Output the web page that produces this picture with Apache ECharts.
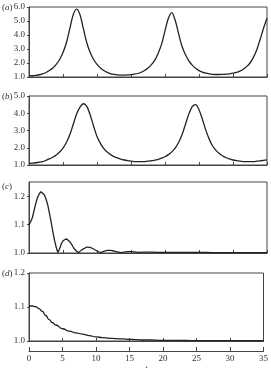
<!DOCTYPE html>
<html>
<head>
<meta charset="UTF-8">
<title>chart</title>
<script src="https://cdn.jsdelivr.net/npm/echarts@6/dist/echarts.min.js"></script>
<style>
    html, body { margin: 0; padding: 0; background: #fff; }
    #container { width: 271px; height: 368px; }
</style>
</head>
<body>
<div id="container"></div>
<script type="text/javascript">
    // time samples (panels a, b)
    const tAB = [0,0.5,1,1.5,2,2.5,3,3.5,4,4.5,5,5.5,6,6.5,7,7.5,8,8.5,9,9.5,10,10.5,11,11.5,12,12.5,13,13.5,14,14.5,15,15.5,16,16.5,17,17.5,18,18.5,19,19.5,20,20.5,21,21.5,22,22.5,23,23.5,24,24.5,25,25.5,26,26.5,27,27.5,28,28.5,29,29.5,30,30.5,31,31.5,32,32.5,33,33.5,34,34.5,35];
    const valsA = [1.08,1.09,1.12,1.16,1.22,1.32,1.46,1.64,1.9,2.25,2.75,3.45,4.45,5.45,5.85,5.45,4.45,3.45,2.75,2.25,1.9,1.65,1.47,1.33,1.23,1.18,1.15,1.14,1.14,1.15,1.17,1.2,1.25,1.34,1.46,1.64,1.88,2.2,2.7,3.35,4.3,5.2,5.6,5.05,4.1,3.2,2.6,2.15,1.85,1.62,1.46,1.35,1.27,1.22,1.19,1.18,1.18,1.19,1.2,1.23,1.27,1.33,1.42,1.55,1.74,2.0,2.4,2.95,3.7,4.5,5.2];
    const valsB = [1.1,1.11,1.13,1.16,1.2,1.27,1.35,1.45,1.58,1.75,1.98,2.3,2.75,3.35,3.95,4.35,4.55,4.4,3.9,3.25,2.65,2.25,1.95,1.75,1.6,1.49,1.41,1.34,1.29,1.25,1.22,1.2,1.19,1.19,1.2,1.22,1.25,1.28,1.33,1.4,1.48,1.6,1.76,1.98,2.3,2.75,3.35,3.95,4.38,4.5,4.2,3.65,3.02,2.5,2.1,1.85,1.66,1.52,1.42,1.35,1.29,1.25,1.22,1.2,1.19,1.19,1.2,1.22,1.24,1.27,1.3];

    // panel c
    const tC = [0,0.25,0.5,0.75,1,1.25,1.5,1.75,2,2.25,2.5,2.75,3,3.25,3.5,3.75,4,4.25,4.5,4.75,5,5.25,5.5,5.75,6,6.25,6.5,6.75,7,7.25,7.5,7.75,8,8.5,9,9.5,10,10.5,11,11.5,12,12.5,13,13.5,14,14.5,15,15.5,16,17,18,19,20,21,22,23,24,25,26,27,28,29,30,31,32,33,34,35];
    const valsC = [1.1,1.11,1.125,1.15,1.175,1.195,1.208,1.216,1.215,1.205,1.19,1.17,1.14,1.11,1.075,1.045,1.02,1.002,1.015,1.032,1.043,1.05,1.05,1.046,1.04,1.031,1.021,1.012,1.005,1.001,1.004,1.011,1.016,1.021,1.02,1.014,1.007,1.001,1.006,1.009,1.009,1.007,1.004,1.001,1.003,1.005,1.005,1.004,1.002,1.003,1.003,1.002,1.002,1.002,1.002,1.002,1.002,1.002,1.002,1.001,1.001,1.001,1.001,1.001,1.001,1.001,1.001,1.001];

    // panel d
    const tD = [0,0.5,1,1.5,2,2.5,3,3.5,4,5,6,7,8,9,10,11,12,13,14,15,16,17,18,20,22,25,30,35];
    const valsD = [1.103,1.103,1.101,1.095,1.087,1.075,1.063,1.054,1.047,1.036,1.029,1.024,1.02,1.016,1.012,1.01,1.008,1.007,1.006,1.005,1.004,1.003,1.003,1.002,1.002,1.001,1.001,1.001];

    const xTicks = [0,5,10,15,20,25,30,35];
    const panelNames = ['a','b','c','d'];
    const yRanges = [[1,6,1],[1,5,1],[1,1.25,0.1],[1,1.2,0.1]];

    const font = 'Liberation Serif';
    const ink = '#222';

    const grids = [
        { left: 29, right: 4, top: 7, height: 70 },
        { left: 29, right: 4, top: 96, height: 69 },
        { left: 29, right: 4, top: 182, height: 71 },
        { left: 29, right: 4, top: 273, height: 68 }
    ].map(g => Object.assign(g, { show: true, borderColor: '#444', borderWidth: 1 }));

    const xAxes = grids.map((g, i) => ({
        type: 'value', gridIndex: i, min: 0, max: 35, interval: 5,
        axisLine: { show: true, lineStyle: { color: '#444' } },
        axisTick: { show: true, inside: true, length: 3, lineStyle: { color: '#444' } },
        axisLabel: { show: false },
        splitLine: { show: false }
    }));
    // bottom scale with labels
    xAxes.push({
        type: 'value', gridIndex: 3, min: 0, max: 35, interval: 5, offset: 10, position: 'bottom',
        axisLine: { show: true, lineStyle: { color: '#444' } },
        axisTick: { show: true, inside: true, length: 4, lineStyle: { color: '#444' } },
        axisLabel: { show: true, fontFamily: font, fontSize: 9, color: '#333', margin: 3,
            formatter: v => xTicks.includes(v) ? String(v) : '' },
        splitLine: { show: false }
    });

    const yAxes = yRanges.map((r, i) => ({
        type: 'value', gridIndex: i, min: r[0], max: r[1], interval: r[2],
        axisLine: { show: true, lineStyle: { color: '#444' } },
        axisTick: { show: true, length: 2, lineStyle: { color: '#444' } },
        axisLabel: { fontFamily: font, fontSize: 9, color: '#333', margin: 4,
            showMaxLabel: i !== 2,
            formatter: v => v.toFixed(1) },
        splitLine: { show: false }
    }));

    const lineStyle = { color: ink, width: 1.3 };
    const series = [
        { data: tAB.map((t, k) => [t, valsA[k]]), smooth: 0.3 },
        { data: tAB.map((t, k) => [t, valsB[k]]), smooth: 0.3 },
        { data: tC.map((t, k) => [t, valsC[k]]), smooth: false },
        { data: tD.map((t, k) => [t, valsD[k]]), smooth: true, smoothMonotone: 'x' }
    ].map((s, i) => Object.assign({
        type: 'line', xAxisIndex: i, yAxisIndex: i, showSymbol: false,
        lineStyle: lineStyle, animation: false
    }, s));

    const labelTops = [3, 92, 182, 269];
    const graphic = panelNames.map((n, i) => ({
        type: 'text', left: 2, top: labelTops[i],
        style: {
            text: '{p|(}{l|' + n + '}{p|)}',
            rich: {
                p: { fontFamily: font, fontSize: 9, fill: '#333' },
                l: { fontFamily: font, fontSize: 9, fontStyle: 'italic', fill: '#333' }
            }
        }
    }));
    graphic.push({
        type: 'text', left: 145, top: 364,
        style: { text: 't', fontFamily: font, fontSize: 9, fontStyle: 'italic', fill: '#333' }
    });

    const myChart = echarts.init(document.getElementById('container'), null, { renderer: 'canvas' });
    myChart.setOption({
        animation: false,
        grid: grids,
        xAxis: xAxes,
        yAxis: yAxes,
        series: series,
        graphic: graphic
    });
</script>
</body>
</html>
